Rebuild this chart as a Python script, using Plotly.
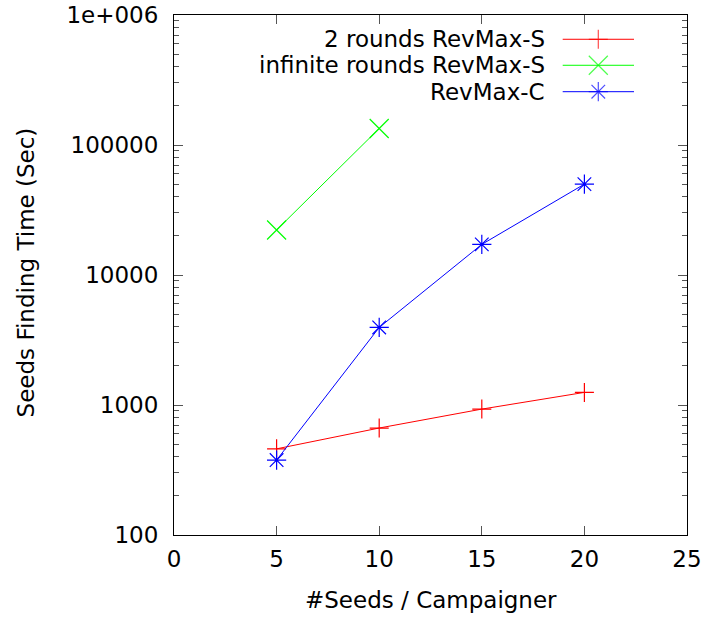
import plotly.graph_objects as go

# Data
seeds = [5, 10, 15, 20]
two_rounds = [460, 665, 930, 1250]
inf_seeds = [5, 10]
inf_rounds = [22200, 134000]
revmax_c = [377, 3950, 17200, 50000]

names = ["2 rounds RevMax-S", "infinite rounds RevMax-S", "RevMax-C"]
colors = ["#ff0000", "#00ff00", "#0000ff"]
symbols = ["cross-thin-open", "x-thin-open", "asterisk-open"]
msizes = [13.6, 19, 16]

x_ticks = [0, 5, 10, 15, 20, 25]
y_ticks = [100, 1000, 10000, 100000, 1000000]
y_ticktext = ["100", "1000", "10000", "100000", "1e+006"]
y_minor = [m * 10 ** d for d in range(2, 6) for m in range(2, 10)]

FONT = "DejaVu Sans"
FS = 23
fig = go.Figure()

series = [(seeds, two_rounds), (inf_seeds, inf_rounds), (seeds, revmax_c)]
for (xs, ys), c, s, ms in zip(series, colors, symbols, msizes):
    fig.add_trace(go.Scatter(
        x=xs, y=ys, mode="lines+markers",
        line=dict(color=c, width=1),
        marker=dict(symbol=s, size=ms, color=c, line=dict(color=c, width=1.2)),
        showlegend=False, hoverinfo="x+y"))

# legend drawn gnuplot-style (text right aligned, sample on the right)
leg_y = [0.9533, 0.9033, 0.8525]
for n, c, s, ms, yy in zip(names, colors, symbols, msizes, leg_y):
    fig.add_trace(go.Scatter(
        x=[0.7577, 0.8271, 0.8967], y=[yy, yy, yy], xaxis="x2", yaxis="y2",
        mode="lines+markers",
        line=dict(color=c, width=1),
        marker=dict(symbol=s, size=[0, ms, 0], color=c, line=dict(color=c, width=1.2)),
        showlegend=False, hoverinfo="skip"))
    fig.add_annotation(x=0.727, y=yy, xref="paper", yref="paper", text=n,
                       showarrow=False, xanchor="right", yanchor="middle",
                       font=dict(family=FONT, size=FS, color="black"))

# axis titles
fig.add_annotation(x=0.501, y=-0.125, xref="paper", yref="paper",
                   text="#Seeds / Campaigner", showarrow=False,
                   xanchor="center", yanchor="middle",
                   font=dict(family=FONT, size=FS, color="black"))
fig.add_annotation(x=-0.2885, y=0.505, xref="paper", yref="paper",
                   text="Seeds Finding Time (Sec)", showarrow=False, textangle=-90,
                   xanchor="center", yanchor="middle",
                   font=dict(family=FONT, size=FS, color="black"))

fig.update_layout(
    width=708, height=618,
    margin=dict(l=174, r=21, t=15, b=83, autoexpand=False),
    paper_bgcolor="white", plot_bgcolor="white",
    font=dict(family=FONT, size=FS, color="black"),
    xaxis=dict(range=[0, 25], tickvals=x_ticks, ticks="inside", ticklen=9,
               tickcolor="#555", showline=True, linecolor="black", linewidth=1,
               mirror="ticks", showgrid=False, zeroline=False, automargin=False,
               ticklabelstandoff=3, tickfont=dict(size=FS)),
    yaxis=dict(type="log", range=[2, 6], tickvals=y_ticks, ticktext=y_ticktext,
               ticks="inside", ticklen=9, tickcolor="#555", showline=True,
               linecolor="black", linewidth=1, mirror="ticks", showgrid=False,
               zeroline=False, automargin=False, ticklabelstandoff=10,
               minor=dict(tickvals=y_minor, ticks="inside", ticklen=5, tickcolor="#555", showgrid=False),
               tickfont=dict(size=FS)),
    xaxis2=dict(domain=[0, 1], range=[0, 1], visible=False, overlaying="x"),
    yaxis2=dict(domain=[0, 1], range=[0, 1], visible=False, overlaying="y"),
)

fig.write_html("out.html")
